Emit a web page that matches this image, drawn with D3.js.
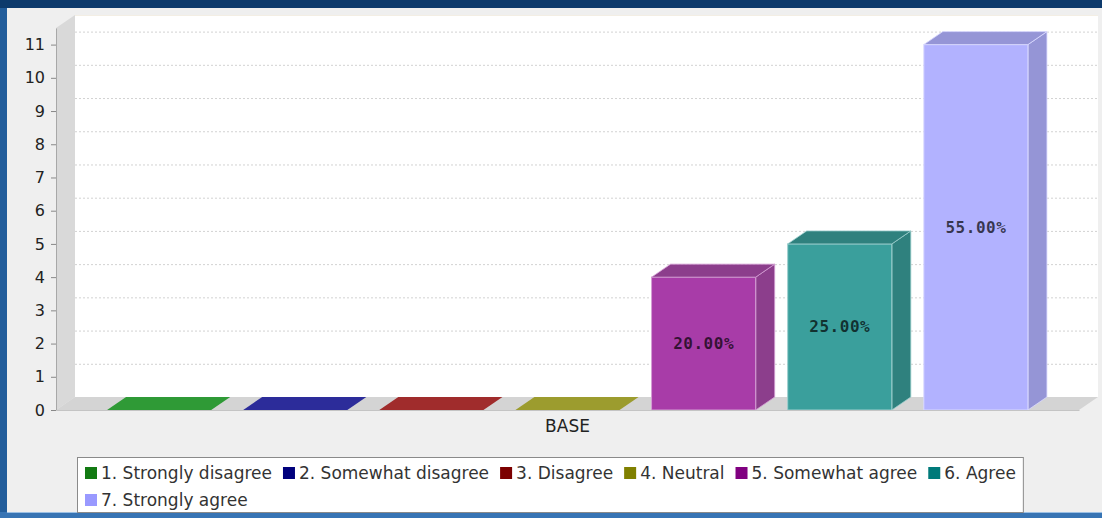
<!DOCTYPE html>
<html>
<head>
<meta charset="utf-8">
<script src="https://cdn.jsdelivr.net/npm/d3@7"></script>
<style>
  html, body { margin: 0; padding: 0; background: #0d3a6c; }
  svg { display: block; }
</style>
</head>
<body>
<svg id="chart" width="1102" height="518"></svg>
<script>
// ---- data ----
const category = "BASE";
const seriesNames = ["1. Strongly disagree", "2. Somewhat disagree", "3. Disagree", "4. Neutral", "5. Somewhat agree", "6. Agree", "7. Strongly agree"];
const seriesValues = [0, 0, 0, 0, 4, 5, 11];
const yTicks = [0, 1, 2, 3, 4, 5, 6, 7, 8, 9, 10, 11];

// ---- styles ----
const legendColors = ["#127a12", "#00007c", "#7c0000", "#808000", "#800080", "#007a7a", "#9999ff"];
const frontColors  = ["#3aa13f", "#3434a2", "#a83636", "#a4a436", "#a83ca8", "#3a9f9c", "#b2b2ff"];
const sideColors   = ["#2f9a36", "#2c2c9a", "#a02c2c", "#9c9c2e", "#8c3e8c", "#2f817e", "#9595d6"];

const svg = d3.select("#chart");
const W = 1102, H = 518;

// background frame
svg.append("rect").attr("x", 0).attr("y", 0).attr("width", W).attr("height", H).attr("fill", "#0d3a6c");
svg.append("rect").attr("x", 0).attr("y", 8).attr("width", 8).attr("height", H - 8).attr("fill", "#225d9b");
svg.append("rect").attr("x", 0).attr("y", 512).attr("width", W).attr("height", 6).attr("fill", "#3774b4");
svg.append("rect").attr("x", 7).attr("y", 8).attr("width", W - 7).attr("height", 504).attr("fill", "#efefef");
svg.append("line").attr("x1", 7).attr("x2", W).attr("y1", 512.5).attr("y2", 512.5).attr("stroke", "#9cc0e4");

// geometry
const dx = 19, dy = 13;
const x0 = 56, x1 = 1079, yBase = 410, yTopFront = 28;
const y = d3.scaleLinear().domain([0, 11.5]).range([yBase, yTopFront]);
const xCat = d3.scaleBand().domain([category]).range([x0, x1]);
const xSer = d3.scaleBand().domain(seriesNames).range([x0, x1]).paddingInner(0.235).paddingOuter(0.375);

const plot = svg.append("g");

// back wall
plot.append("rect").attr("x", x0 + dx).attr("y", yTopFront - dy)
  .attr("width", x1 - x0).attr("height", yBase - yTopFront).attr("fill", "#ffffff");
plot.append("line").attr("x1", x0 + dx).attr("x2", x1 + dx).attr("y1", yTopFront - dy + 0.5).attr("y2", yTopFront - dy + 0.5)
  .attr("stroke", "#f3eee4");
// left wall
plot.append("polygon")
  .attr("points", [[x0, yTopFront], [x0 + dx, yTopFront - dy], [x0 + dx, yBase - dy], [x0, yBase]].join(" "))
  .attr("fill", "#d9d9d9");
// floor
plot.append("polygon")
  .attr("points", [[x0, yBase], [x0 + dx, yBase - dy], [x1 + dx, yBase - dy], [x1, yBase]].join(" "))
  .attr("fill", "#d4d4d4");

// gridlines on back wall
plot.append("g").selectAll("line").data(yTicks.filter(d => d > 0)).join("line")
  .attr("x1", x0 + dx).attr("x2", x1 + dx)
  .attr("y1", d => y(d) - dy + 0.5).attr("y2", d => y(d) - dy + 0.5)
  .attr("stroke", "#d2d2d2").attr("stroke-dasharray", "2,2");

// y axis
const yAxis = plot.append("g").attr("transform", `translate(${x0},0)`)
  .call(d3.axisLeft(y).tickValues(yTicks).tickSizeInner(5).tickSizeOuter(0).tickPadding(6));
yAxis.select(".domain").attr("stroke", "#a8a8a8");
yAxis.selectAll(".tick line").attr("stroke", "#888");
yAxis.selectAll(".tick text").attr("font-family", "DejaVu Sans").attr("font-size", 16).attr("fill", "#222");

// bars
const total = d3.sum(seriesValues);
const bars = plot.append("g").selectAll("g").data(seriesNames.map((s, i) => ({ s, i, v: seriesValues[i] }))).join("g");
bars.each(function (d) {
  const g = d3.select(this);
  const bx = xSer(d.s), bw = xSer.bandwidth();
  const yt = y(d.v);
  const edge = d3.interpolateRgb(frontColors[d.i], "#ffffff")(0.5);
  if (d.v > 0) {
    g.append("polygon")
      .attr("points", [[bx + bw, yt], [bx + bw + dx, yt - dy], [bx + bw + dx, yBase - dy], [bx + bw, yBase]].join(" "))
      .attr("fill", sideColors[d.i]).attr("stroke", edge).attr("stroke-width", 0.8);
    g.append("rect").attr("x", bx).attr("y", yt).attr("width", bw).attr("height", yBase - yt)
      .attr("fill", frontColors[d.i]).attr("stroke", edge).attr("stroke-width", 1);
  }
  g.append("polygon")
    .attr("points", [[bx, yt], [bx + dx, yt - dy], [bx + bw + dx, yt - dy], [bx + bw, yt]].join(" "))
    .attr("fill", sideColors[d.i]).attr("stroke", d.v > 0 ? edge : "none").attr("stroke-width", 0.8);
  if (d.v > 0) {
    g.append("text")
      .attr("x", bx + bw / 2).attr("y", (yt + yBase) / 2)
      .attr("text-anchor", "middle").attr("dominant-baseline", "central")
      .attr("font-family", "DejaVu Sans Mono").attr("font-weight", "bold").attr("font-size", 16)
      .attr("letter-spacing", 0.5)
      .attr("fill", "#000").attr("fill-opacity", 0.7)
      .text(d3.format(".2f")(d.v / total * 100) + "%");
  }
});

// category axis
const xAxis = plot.append("g").attr("transform", `translate(0,${yBase})`)
  .call(d3.axisBottom(xCat).tickSize(0).tickPadding(10));
xAxis.select(".domain").attr("stroke", "#c4c4c4");
xAxis.selectAll(".tick text").attr("font-family", "DejaVu Sans").attr("font-size", 17).attr("fill", "#222");

// legend
const legend = svg.append("g");
const legBox = legend.append("rect").attr("fill", "#ffffff").attr("stroke", "#8a8a8a");
const lx0 = 85, lMaxX = 1020, rowH = 27, row1 = 473;
let cx = lx0, row = 0, maxX = 0;
seriesNames.forEach((name, i) => {
  const item = legend.append("g");
  const t = item.append("text").attr("font-family", "DejaVu Sans").attr("font-size", 17).attr("fill", "#333")
    .attr("dominant-baseline", "central").text(name);
  const tw = t.node().getComputedTextLength();
  if (cx + 16 + tw > lMaxX) { row++; cx = lx0; }
  const cy = row1 + row * rowH;
  item.append("rect").attr("x", cx).attr("y", cy - 6).attr("width", 12).attr("height", 12).attr("fill", legendColors[i]);
  t.attr("x", cx + 16).attr("y", cy);
  maxX = Math.max(maxX, cx + 16 + tw);
  cx += 16 + tw + 11;
});
legBox.attr("x", 77.5).attr("y", 457.5).attr("width", maxX + 7 - 77).attr("height", row1 + row * rowH + 12 - 457);
</script>
</body>
</html>
